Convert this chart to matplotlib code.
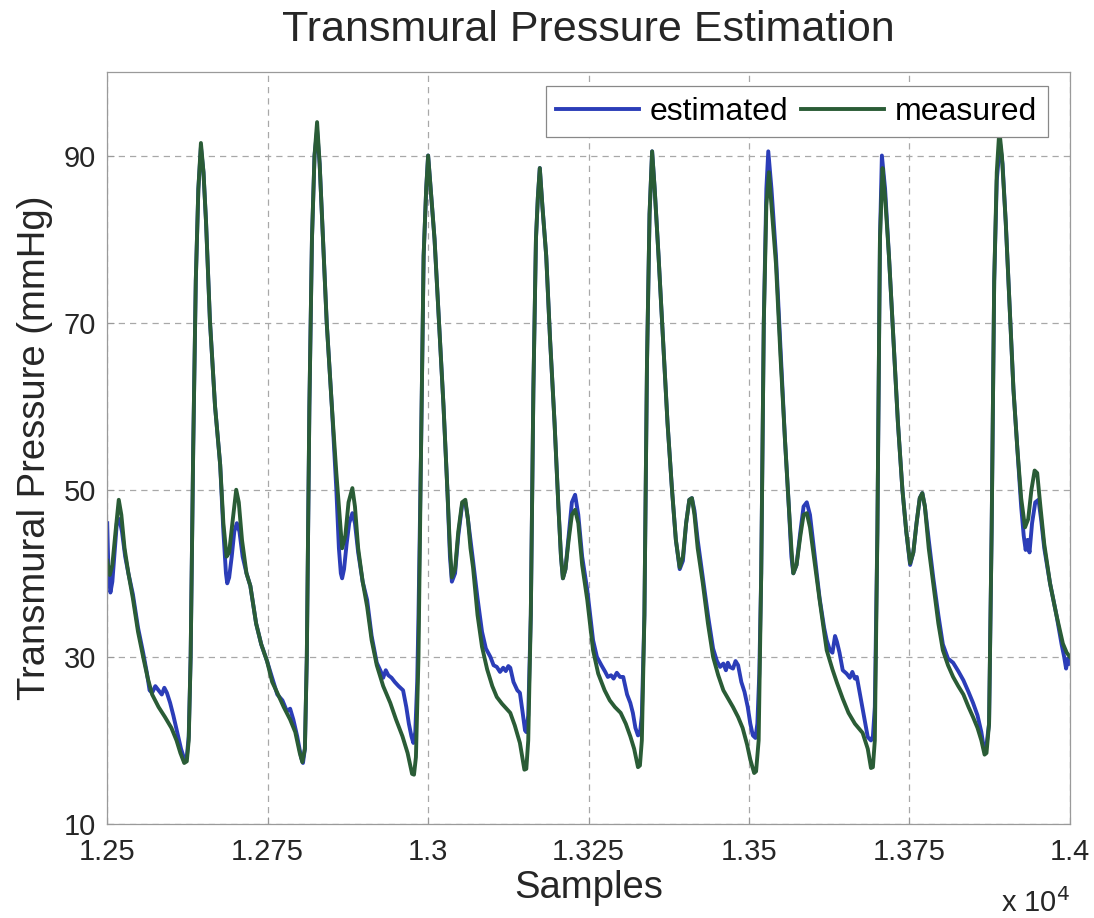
import matplotlib
matplotlib.use('Agg')
import matplotlib.pyplot as plt

# data (sample index, mmHg)
meas_x = [12500, 12504, 12508, 12513, 12518, 12522, 12527, 12533, 12540, 12548, 12556, 12563, 12570, 12580, 12590,
          12600, 12608, 12614, 12620, 12624, 12627, 12630, 12634, 12638, 12642, 12646, 12650, 12654, 12660, 12668,
          12676, 12681, 12686, 12690, 12695, 12701, 12705, 12710, 12717, 12723, 12732, 12740, 12749, 12757, 12765,
          12775, 12785, 12793, 12800, 12804, 12808, 12811, 12815, 12819, 12823, 12827, 12831, 12835, 12842, 12850,
          12857, 12862, 12866, 12871, 12876, 12882, 12886, 12891, 12898, 12905, 12912, 12920, 12930, 12941, 12950,
          12960, 12968, 12975, 12978, 12981, 12985, 12989, 12993, 12997, 13000, 13004, 13010, 13017, 13024, 13030,
          13034, 13037, 13042, 13047, 13053, 13058, 13062, 13066, 13070, 13077, 13084, 13092, 13100, 13107, 13115,
          13122, 13128, 13135, 13143, 13150, 13153, 13156, 13160, 13164, 13168, 13171, 13174, 13178, 13184, 13190,
          13197, 13203, 13207, 13210, 13214, 13219, 13224, 13229, 13234, 13240, 13248, 13257, 13265, 13275, 13283,
          13291, 13300, 13308, 13315, 13321, 13327, 13330, 13333, 13337, 13341, 13345, 13349, 13353, 13359, 13366,
          13373, 13380, 13386, 13392, 13397, 13402, 13407, 13411, 13415, 13420, 13428, 13436, 13444, 13452, 13460,
          13466, 13475, 13483, 13490, 13497, 13502, 13508, 13511, 13515, 13519, 13523, 13527, 13531, 13535, 13542,
          13549, 13556, 13562, 13566, 13569, 13574, 13580, 13585, 13590, 13595, 13601, 13610, 13621, 13630, 13637,
          13646, 13655, 13665, 13677, 13685, 13690, 13693, 13696, 13700, 13704, 13708, 13712, 13718, 13725, 13732,
          13739, 13745, 13751, 13756, 13761, 13766, 13770, 13774, 13780, 13787, 13795, 13802, 13810, 13818, 13826,
          13834, 13842, 13849, 13856, 13862, 13867, 13870, 13874, 13878, 13882, 13886, 13890, 13894, 13900, 13906,
          13912, 13918, 13924, 13930, 13935, 13940, 13945, 13949, 13954, 13960, 13969, 13979, 13989, 13995, 14000]
meas_y = [41.5, 39.8, 41, 45, 48.8, 47, 43, 40, 37, 33, 30, 27.5, 25.5, 24, 22.8,
          21.5, 20, 18.5, 17.3, 17.5, 20, 30, 55, 75, 86, 91.5, 88, 82, 70.3, 60,
          53, 46, 42, 42.5, 46, 50, 48.5, 44, 40, 38.5, 34, 31.5, 29.5, 27, 25.7,
          24, 22.5, 21, 18.5, 17.4, 19, 30, 60, 80, 90, 94, 89, 82, 70, 60,
          52, 47, 43, 44.5, 48.5, 50.2, 48, 43, 39, 36, 32, 29, 26.5, 24.5, 22.5,
          20.5, 18.5, 16, 15.9, 18, 30, 55, 78, 86, 90, 86, 80, 70, 60, 50,
          43, 39.5, 40.5, 45, 48.5, 48.8, 46.5, 43, 40.7, 35, 31.2, 28.5, 26.5, 25.2, 24.4,
          23.8, 23.3, 21.8, 19.7, 16.5, 16.6, 20, 35, 62, 80, 85, 88.5, 84, 78, 68,
          58, 48, 42, 39.4, 40.5, 44, 47, 47.6, 46, 41, 36.8, 30.8, 28, 26, 24.8,
          24, 23.3, 22, 20.5, 19, 16.8, 17, 20, 35, 65, 83, 90.5, 86, 78, 68,
          58, 50, 44, 40.7, 42, 46, 48.8, 49, 47, 43, 38.8, 34, 30, 27.8, 26,
          25.2, 24, 22.8, 21.5, 19.5, 17.7, 16.1, 16.3, 20, 40, 70, 84, 88, 84, 77,
          66, 56, 48, 43, 40, 41, 44.5, 47, 47.2, 45.5, 42, 36.8, 30.8, 28.5, 26.9,
          25, 23.3, 22, 20.9, 19, 16.7, 16.8, 20, 45, 80, 88.5, 85, 78, 68, 58,
          50, 45, 41.2, 42.5, 46, 49, 49.6, 48, 43, 38.8, 34, 30.8, 29, 27.6, 26.5,
          25.5, 24, 22.8, 21.5, 20, 18.3, 18.5, 22, 45, 75, 88, 93, 90, 82, 72,
          62, 55, 49, 45.5, 46.5, 50, 52.3, 52, 48, 43.5, 38.8, 35, 31.6, 30.5, 30]

est_x = [12500, 12502, 12505, 12508, 12511, 12515, 12519, 12523, 12528, 12533, 12540, 12548, 12556, 12562, 12566,
         12570, 12575, 12580, 12585, 12589, 12593, 12598, 12603, 12609, 12615, 12620, 12624, 12627, 12630, 12634,
         12638, 12642, 12646, 12650, 12654, 12660, 12668, 12676, 12681, 12685, 12687, 12690, 12694, 12698, 12702,
         12706, 12711, 12717, 12723, 12732, 12740, 12749, 12757, 12765, 12773, 12780, 12785, 12790, 12796, 12802,
         12805, 12808, 12811, 12815, 12819, 12823, 12827, 12831, 12835, 12842, 12850, 12857, 12861, 12864, 12866,
         12869, 12873, 12877, 12882, 12886, 12891, 12898, 12905, 12912, 12920, 12926, 12930, 12934, 12938, 12943,
         12948, 12954, 12961, 12966, 12970, 12974, 12977, 12980, 12983, 12985, 12989, 12993, 12997, 13000, 13004,
         13010, 13017, 13024, 13030, 13034, 13037, 13042, 13047, 13053, 13058, 13062, 13066, 13070, 13077, 13084,
         13090, 13097, 13102, 13107, 13112, 13117, 13121, 13125, 13128, 13133, 13139, 13143, 13147, 13151, 13153,
         13156, 13160, 13164, 13168, 13171, 13174, 13178, 13184, 13190, 13197, 13203, 13207, 13210, 13214, 13219,
         13224, 13229, 13234, 13240, 13248, 13257, 13263, 13270, 13276, 13280, 13285, 13289, 13294, 13299, 13304,
         13310, 13315, 13319, 13323, 13327, 13330, 13333, 13337, 13341, 13345, 13349, 13353, 13359, 13366, 13373,
         13380, 13386, 13392, 13397, 13402, 13407, 13411, 13415, 13420, 13428, 13436, 13444, 13450, 13455, 13460,
         13464, 13467, 13470, 13475, 13479, 13483, 13488, 13493, 13498, 13502, 13506, 13510, 13513, 13516, 13519,
         13523, 13527, 13530, 13535, 13542, 13549, 13556, 13562, 13566, 13569, 13574, 13580, 13585, 13590, 13595,
         13601, 13610, 13617, 13621, 13626, 13630, 13634, 13637, 13641, 13646, 13652, 13657, 13661, 13665, 13668,
         13673, 13679, 13685, 13690, 13693, 13696, 13700, 13704, 13707, 13712, 13718, 13725, 13732, 13739, 13745,
         13751, 13756, 13761, 13766, 13770, 13774, 13780, 13787, 13795, 13802, 13810, 13818, 13826, 13834, 13842,
         13849, 13856, 13862, 13866, 13869, 13874, 13878, 13882, 13886, 13891, 13895, 13900, 13906, 13912, 13918,
         13924, 13928, 13931, 13934, 13937, 13941, 13946, 13951, 13955, 13960, 13969, 13979, 13987, 13991, 13994,
         13997, 14000]
est_y = [46, 40, 37.7, 39, 42, 46, 46.5, 45, 42, 40, 37.5, 33.5, 30.5, 28, 26,
         25.7, 26.5, 26, 25.5, 26.3, 25.7, 24.5, 23, 21, 19, 17.8, 18, 20.5, 30, 55,
         75, 86, 91, 88, 82, 70.3, 60, 53, 45, 40, 38.8, 39.5, 42, 45, 46,
         45, 42, 40, 38.5, 34, 31.5, 29.5, 27.5, 25.5, 24.8, 23.5, 23.8, 22.5, 20.5, 18,
         17.3, 19, 30, 60, 80, 90, 93, 89, 82, 70, 60, 50, 43, 40, 39.4,
         40.5, 43.5, 46, 47.2, 46, 42.5, 39, 36.8, 32.5, 29.3, 28.3, 27.5, 28.4, 27.8, 27.5,
         27, 26.5, 26, 24, 22, 20.5, 19.7, 21, 27, 35, 55, 78, 86, 90, 86,
         80, 70, 60, 50, 42, 39, 40, 44.5, 48.2, 48.5, 46.5, 44, 41.5, 37, 33,
         31, 30, 29, 28.8, 28.2, 28.7, 28.3, 28.9, 28.7, 27, 26, 25.7, 23.5, 21.2, 21,
         23, 35, 62, 80, 85, 88.5, 84, 78, 68, 58, 48, 42, 39.4, 40.5, 44.5,
         48.5, 49.4, 47, 42, 38, 32, 30, 29, 28.2, 27.6, 27.8, 27.4, 28.1, 27.6, 27.6,
         25.5, 24.5, 23.3, 21.5, 20.6, 20.8, 23, 35, 65, 83, 90.5, 86, 78, 68, 58,
         50, 44, 40.5, 41.5, 46, 48.8, 49, 47.5, 44, 39.5, 35, 31, 29.5, 28.8, 29.2,
         28.4, 29.3, 28.8, 28.6, 29.5, 29, 27, 25.8, 24, 22, 20.6, 20.3, 22, 28, 40,
         70, 86, 90.5, 86, 78, 67, 56, 48, 42, 40, 41, 45, 48, 48.5, 47,
         43, 37, 33.5, 32, 30.8, 30.5, 32.5, 31.8, 30.5, 28.4, 28, 27.5, 28.2, 27.4, 27.6,
         25.5, 23, 20.4, 20, 20.5, 24, 45, 80, 90, 86, 78, 68, 58, 50, 45,
         41, 42.5, 46, 49, 49.6, 48, 44, 39.5, 35, 31.5, 29.8, 29.3, 28.3, 27.2, 25.8,
         24.5, 23, 21, 19, 18.8, 22, 45, 75, 87, 91.5, 89, 82, 72, 62, 55,
         48, 44.5, 42.8, 44, 42.5, 46, 48.5, 48.8, 46.5, 43, 38.8, 35, 31.5, 30, 28.6,
         29.8, 29.2]

x_ticks = [12500, 12750, 13000, 13250, 13500, 13750, 14000]
x_tick_labels = ['1.25', '1.275', '1.3', '1.325', '1.35', '1.375', '1.4']
y_ticks = [10, 30, 50, 70, 90]

plt.rcParams['font.family'] = ['Liberation Sans', 'DejaVu Sans']

fig = plt.figure(figsize=(10.94, 9.18), dpi=100)
ax = fig.add_axes([0.098, 0.1024, 0.88, 0.8192])

ax.plot(est_x, est_y, color='#2b3db8', lw=2.8, label='estimated')
ax.plot(meas_x, meas_y, color='#2a5c36', lw=2.8, label='measured')

ax.set_xlim(12500, 14000)
ax.set_ylim(10, 100)
ax.set_xticks(x_ticks)
ax.set_xticklabels(x_tick_labels)
ax.set_yticks(y_ticks)
ax.tick_params(direction='in', length=5, labelsize=21, colors='#999999', labelcolor='#262626')
ax.tick_params(axis='x', pad=10)
ax.tick_params(axis='y', pad=8)
ax.grid(True, color='#a8a8a8', linestyle=(0, (5, 4)), linewidth=0.9)
for s in ax.spines.values():
    s.set_color('#9a9a9a')
    s.set_linewidth(0.9)

ax.set_title('Transmural Pressure Estimation', fontsize=31, color='#262626', pad=22)
ax.set_xlabel('Samples', fontsize=27.5, color='#262626', labelpad=3)
ax.set_ylabel('Transmural Pressure (mmHg)', fontsize=27.5, color='#262626', labelpad=8)
ax.text(1.0, -0.105, r'x 10$^{4}$', transform=ax.transAxes, ha='right', va='center',
        fontsize=21, color='#262626')

leg = ax.legend(loc='upper right', bbox_to_anchor=(0.977, 0.981), ncol=2, fontsize=23,
                handlelength=2.6, fancybox=False, borderaxespad=0, columnspacing=0.4,
                handletextpad=0.33, borderpad=0.33)
leg.get_frame().set_edgecolor('#888888')
leg.get_frame().set_linewidth(0.9)
leg.get_frame().set_alpha(1)

fig.savefig('out.png', dpi=100)
